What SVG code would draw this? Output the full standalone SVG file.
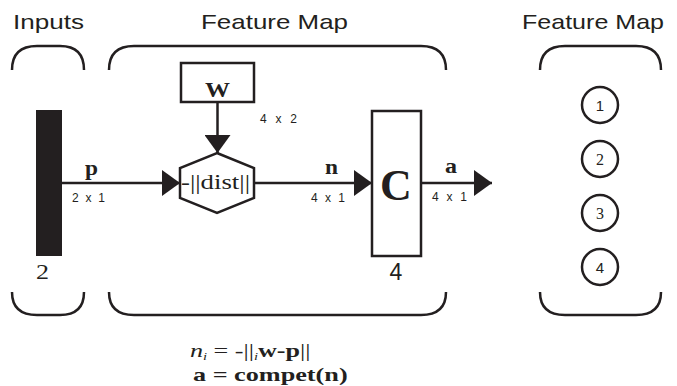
<svg xmlns="http://www.w3.org/2000/svg" width="677" height="386" viewBox="0 0 677 386">
<defs>
<style>
.ln{stroke:#231f20;stroke-width:2.5;fill:none}
.box{stroke:#231f20;stroke-width:2.5;fill:#fff}
.title{font-family:"Liberation Sans",Arial,sans-serif;font-size:21px;fill:#231f20}
.dim{font-family:"Liberation Sans",Arial,sans-serif;font-size:12px;fill:#231f20}
.var{font-family:"Liberation Serif","Times New Roman",serif;font-weight:bold;font-size:20px;fill:#231f20}
.ser{font-family:"Liberation Serif","Times New Roman",serif;fill:#231f20}
.sans{font-family:"Liberation Sans",Arial,sans-serif;fill:#231f20}
</style>
<marker id="ah" markerWidth="18" markerHeight="26" refX="18" refY="13" orient="auto" markerUnits="userSpaceOnUse">
<path d="M0,0 L18,13 L0,26 Z" fill="#231f20"/>
</marker>
</defs>
<rect width="677" height="386" fill="#fff"/>

<g id="titles">
<text class="title" x="13" y="29" textLength="71" lengthAdjust="spacingAndGlyphs">Inputs</text>
<text class="title" x="201" y="29" textLength="147" lengthAdjust="spacingAndGlyphs">Feature Map</text>
<text class="title" x="522" y="29" textLength="142" lengthAdjust="spacingAndGlyphs">Feature Map</text>
</g>

<g id="brackets">
<path class="ln" d="M12,70 Q12,46 37,46 L60,46 Q84,46 84,70"/>
<path class="ln" d="M109,70 Q109,46 134,46 L421,46 Q446,46 446,70"/>
<path class="ln" d="M540,70 Q540,46 565,46 L636,46 Q661,46 661,70"/>
<path class="ln" d="M12,292 Q12,315 37,315 L60,315 Q84,315 84,292"/>
<path class="ln" d="M109,292 Q109,315 134,315 L421,315 Q446,315 446,292"/>
<path class="ln" d="M540,292 Q540,315 565,315 L636,315 Q661,315 661,292"/>
</g>

<g id="connectors">
<line class="ln" x1="62" y1="183" x2="180" y2="183" marker-end="url(#ah)"/>
<line class="ln" x1="217.5" y1="102" x2="217.5" y2="153" marker-end="url(#ah)"/>
<line class="ln" x1="254" y1="183" x2="372" y2="183" marker-end="url(#ah)"/>
<line class="ln" x1="421" y1="183" x2="492" y2="183" marker-end="url(#ah)"/>
</g>

<g id="input">
<rect x="36" y="110" width="26" height="146" fill="#231f20"/>
<text class="ser" x="36" y="279" font-size="21" textLength="13" lengthAdjust="spacingAndGlyphs">2</text>
</g>

<g id="labels">
<text class="var" x="85" y="175" textLength="13" lengthAdjust="spacingAndGlyphs">p</text>
<text class="dim" x="72" y="202" textLength="33" lengthAdjust="spacing">2x1</text>
<text class="var" x="325" y="174" textLength="13" lengthAdjust="spacingAndGlyphs">n</text>
<text class="dim" x="311" y="202" textLength="34" lengthAdjust="spacing">4x1</text>
<text class="var" x="445" y="173" textLength="12" lengthAdjust="spacingAndGlyphs">a</text>
<text class="dim" x="432" y="201" textLength="35" lengthAdjust="spacing">4x1</text>
<text class="dim" x="260" y="123" textLength="37" lengthAdjust="spacing">4x2</text>
</g>

<g id="weight">
<rect class="box" x="181" y="63" width="73" height="39"/>
<text class="var" x="205" y="97" font-size="22" textLength="25" lengthAdjust="spacingAndGlyphs">W</text>
</g>

<g id="dist">
<polygon class="box" points="217,153 254,168 254,198 217,213 180,198 180,168"/>
<text class="ser" x="181" y="189" font-size="22" textLength="69" lengthAdjust="spacingAndGlyphs">-||dist||</text>
</g>

<g id="compet">
<rect class="box" x="372" y="111" width="49" height="145"/>
<text class="ser" x="396" y="200" font-size="44" font-weight="bold" text-anchor="middle">C</text>
<text class="sans" x="396" y="280" font-size="23" text-anchor="middle">4</text>
</g>

<g id="neurons">
<g id="n1"><circle class="box" cx="600" cy="105" r="18"/><text class="sans" x="600" y="110.5" font-size="15" text-anchor="middle">1</text></g>
<g id="n2"><circle class="box" cx="600" cy="159" r="18"/><text class="ser" x="600" y="164.5" font-size="16" text-anchor="middle">2</text></g>
<g id="n3"><circle class="box" cx="600" cy="213" r="18"/><text class="ser" x="600" y="218.5" font-size="16" text-anchor="middle">3</text></g>
<g id="n4"><circle class="box" cx="600" cy="267" r="18"/><text class="sans" x="600" y="272.5" font-size="15" text-anchor="middle">4</text></g>
</g>

<g id="equations">
<g transform="translate(190,357) scale(1.45,1)">
<text class="ser" x="0" y="0" font-size="18"><tspan font-style="italic">n</tspan><tspan font-style="italic" font-size="10" dy="3">i</tspan><tspan dy="-3"> = -||</tspan><tspan font-style="italic" font-size="10" dy="3">i</tspan><tspan dy="-3" font-weight="bold">w-p</tspan>||</text>
</g>
<g transform="translate(193,381) scale(1.38,1)">
<text class="ser" x="0" y="0" font-size="19" font-weight="bold">a = compet(n)</text>
</g>
</g>
</svg>
